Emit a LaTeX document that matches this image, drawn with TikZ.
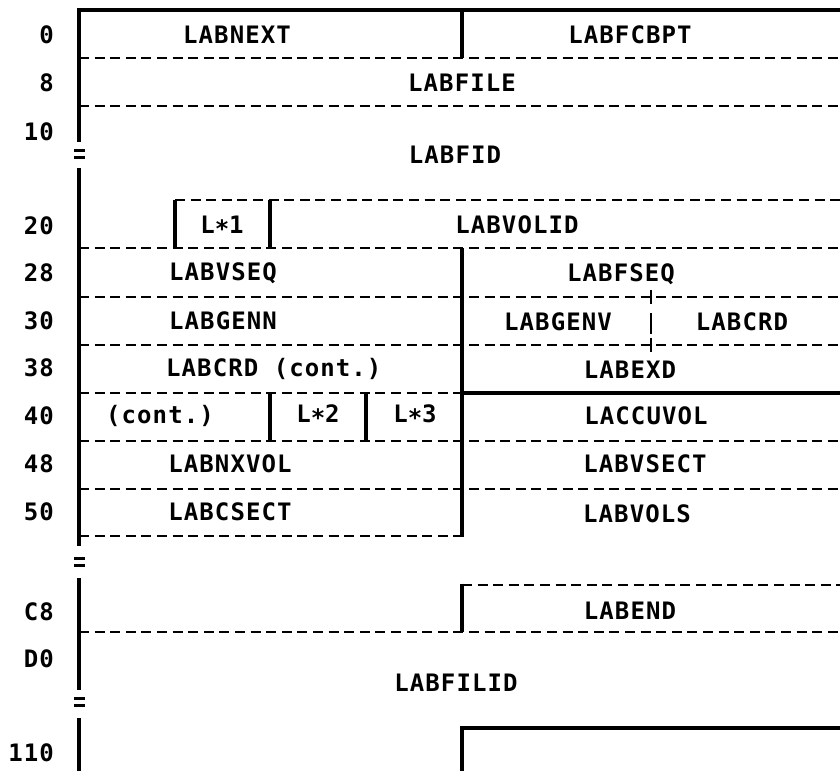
\documentclass[tikz,border=0pt]{standalone}
\usepackage{fontspec}
\newfontfamily\cellfont[LetterSpace=4.5]{DejaVu Sans Mono}
\newcommand\lowstar{\raisebox{-4pt}{*}}
\begin{document}
\begin{tikzpicture}[x=1pt,y=-1pt,
  wall/.style={line width=3.2pt},
  sep/.style={line width=2.8pt,dash pattern=on 10pt off 5.6pt},
  brk/.style={line width=2.6pt},
  field/.style={font=\cellfont\bfseries\fontsize{24}{26}\selectfont,inner sep=0pt,anchor=center},
  offs/.style={font=\cellfont\bfseries\fontsize{24}{26}\selectfont,inner sep=0pt,anchor=east}]
\useasboundingbox (0,0) rectangle (840,771);
\fill[white] (0,0) rectangle (840,771);

% left spine with break marks
\draw[wall] (79,10) -- (79,142);
\draw[wall] (79,168) -- (79,546);
\draw[wall] (79,578) -- (79,690);
\draw[wall] (79,718) -- (79,771);
\foreach \yy in {154,562,702}{
  \draw[brk] (74,\yy-3.5) -- (85,\yy-3.5);
  \draw[brk] (74,\yy+3.5) -- (85,\yy+3.5);
}

% solid boundaries
\draw[wall] (77.4,10) -- (840,10);
\draw[wall] (462,10) -- (462,58);
\draw[wall] (175,200) -- (175,248);
\draw[wall] (270,200) -- (270,248);
\draw[wall] (462,248) -- (462,537.4);
\draw[wall] (462,393) -- (840,393);
\draw[wall] (270,393) -- (270,441);
\draw[wall] (366,393) -- (366,441);
\draw[wall] (462,583.6) -- (462,632);
\draw[wall] (460.4,728) -- (840,728);
\draw[wall] (462,728) -- (462,771);

% dashed field separators
\draw[sep] (79,58) -- (840,58);
\draw[sep] (79,106) -- (840,106);
\draw[sep] (175,200) -- (840,200);
\draw[sep] (79,248) -- (840,248);
\draw[sep] (79,297) -- (840,297);
\draw[sep] (79,345) -- (840,345);
\draw[sep] (79,393) -- (462,393);
\draw[sep] (79,441) -- (840,441);
\draw[sep] (79,489) -- (840,489);
\draw[sep] (79,536) -- (462,536);
\draw[sep] (462,585) -- (840,585);
\draw[sep] (79,632) -- (840,632);

% split between LABGENV and LABCRD
\draw[brk] (651,290) -- (651,304);
\draw[brk] (651,313) -- (651,334);
\draw[brk] (651,338) -- (651,352);

% offsets
\node[offs] (o0)   at (54,35)  {0};
\node[offs] (o8)   at (54,83)  {8};
\node[offs] (o10)  at (54,132) {10};
\node[offs] (o20)  at (54,226) {20};
\node[offs] (o28)  at (54,273) {28};
\node[offs] (o30)  at (54,321) {30};
\node[offs] (o38)  at (54,368) {38};
\node[offs] (o40)  at (54,416) {40};
\node[offs] (o48)  at (54,464) {48};
\node[offs] (o50)  at (54,512) {50};
\node[offs] (oC8)  at (54,612) {C8};
\node[offs] (oD0)  at (54,659) {D0};
\node[offs] (o110) at (54,753) {110};

% field names
\node[field] (labnext)  at (237,35)  {LABNEXT};
\node[field] (labfcbpt) at (630,35)  {LABFCBPT};
\node[field] (labfile)  at (462,83)  {LABFILE};
\node[field] (labfid)   at (455,155) {LABFID};
\node[field] (lx1)      at (222,227) {L\lowstar1};
\node[field] (labvolid) at (517,225) {LABVOLID};
\node[field] (labvseq)  at (223,273) {LABVSEQ};
\node[field] (labfseq)  at (621,274) {LABFSEQ};
\node[field] (labgenn)  at (223,321) {LABGENN};
\node[field] (labgenv)  at (558,322) {LABGENV};
\node[field] (labcrd)   at (742,322) {LABCRD};
\node[field,anchor=west] (labcrdc) at (166,369) {LABCRD (cont.)};
\node[field] (labexd)   at (630,370) {LABEXD};
\node[field] (cont)     at (160,416) {(cont.)};
\node[field] (lx2)      at (318,416) {L\lowstar2};
\node[field] (lx3)      at (415,416) {L\lowstar3};
\node[field] (laccuvol) at (646,416) {LACCUVOL};
\node[field] (labnxvol) at (230,464) {LABNXVOL};
\node[field] (labvsect) at (645,464) {LABVSECT};
\node[field] (labcsect) at (230,512) {LABCSECT};
\node[field] (labvols)  at (637,514) {LABVOLS};
\node[field] (labend)   at (630,611) {LABEND};
\node[field] (labfilid) at (456,683) {LABFILID};
\end{tikzpicture}
\end{document}
